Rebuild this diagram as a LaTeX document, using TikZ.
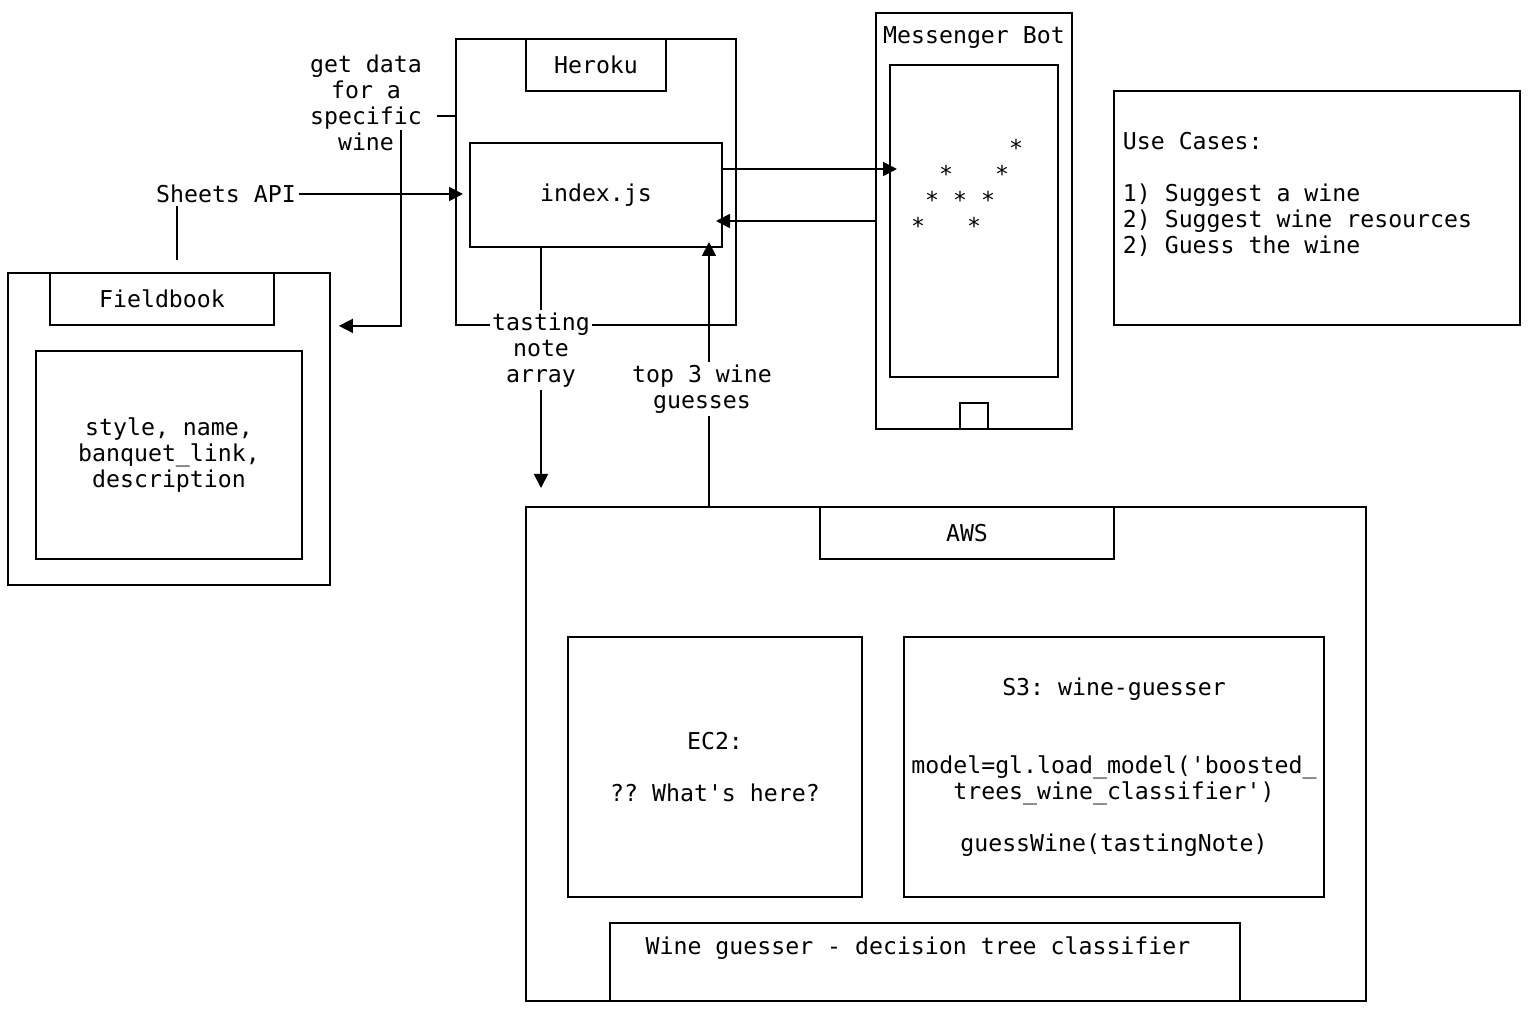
\documentclass[tikz,border=0pt]{standalone}
\usepackage{fontspec}
\setmainfont{DejaVu Sans Mono}[Ligatures=TeXOff]
\frenchspacing
\usetikzlibrary{arrows.meta}

\tikzset{
  box/.style={draw, inner sep=0pt},
  lbl/.style={font=\fontsize{11.6}{13}\selectfont, align=center, inner sep=1pt},
  arr/.style={-{Triangle[length=7pt,width=7pt]}},
}

\begin{document}
\begin{tikzpicture}[x=0.5pt, y=-0.5pt, line width=0.9pt]
  \useasboundingbox (0,0) rectangle (1528,1016);

  % Fieldbook
  \path (169,429) node[box, minimum width=161pt, minimum height=156pt] (field) {};
  \path (162,299) node[box, lbl, minimum width=112pt, minimum height=26pt] (fieldTitle) {Fieldbook};
  \path (169,455) node[box, lbl, minimum width=133pt, minimum height=104pt] (fieldData) {style, name,\\banquet\_link,\\description};

  % Heroku
  \path (596,182) node[box, minimum width=140pt, minimum height=143pt] (heroku) {};
  \path (596,65) node[box, lbl, minimum width=70pt, minimum height=26pt] (herokuTitle) {Heroku};
  \path (596,195) node[box, lbl, minimum width=126pt, minimum height=52pt] (index) {index.js};

  % Messenger Bot
  \path (974,221) node[box, minimum width=98pt, minimum height=208pt] (bot) {};
  \path (974,38) node[lbl] (botTitle) {Messenger Bot};
  \path (974,221) node[box, minimum width=84pt, minimum height=156pt] (screen) {};
  \path (974,416) node[box, minimum width=14pt, minimum height=13pt] (homeBtn) {};
  \foreach \x/\y [count=\i] in {1016/143, 946/169, 1002/169, 932/195, 960/195, 988/195, 918/221, 974/221}
    \path (\x,\y) node[lbl, yshift=-2.5pt] (star\i) {*};

  % Use cases
  \path (1317,208) node[box, minimum width=203pt, minimum height=117pt] (cases) {};
  \path (1120,194) node[lbl, anchor=west, align=left] (casesText) {Use Cases:\\[13pt]1) Suggest a wine\\2) Suggest wine resources\\2) Guess the wine};

  % AWS
  \path (946,754) node[box, minimum width=420pt, minimum height=247pt] (aws) {};
  \path (967,533) node[box, lbl, minimum width=147pt, minimum height=26pt] (awsTitle) {AWS};
  \path (715,767) node[box, lbl, minimum width=147pt, minimum height=130pt] (ec2) {EC2:\\[13pt]?? What's here?};
  \path (1114,767) node[box, lbl, minimum width=210pt, minimum height=130pt] (s3) {S3: wine-guesser\\[26pt]model=gl.load\_model('boosted\_\\trees\_wine\_classifier')\\[13pt]guessWine(tastingNote)};
  \path (925,962) node[box, minimum width=315pt, minimum height=39pt] (classifier) {};
  \path (918,948) node[lbl] (classifierText) {Wine guesser - decision tree classifier};

  % labels
  \path (366,103) node[lbl] (getData) {get data\\for a\\specific\\wine};
  \path (226,194) node[lbl] (sheets) {Sheets API};
  \path (541,350) node[lbl, fill=white] (tasting) {tasting\\note\\array};
  \path (702,389) node[lbl] (guesses) {top 3 wine\\guesses};

  % connectors
  \coordinate (herokuIn) at (463,194);
  \draw[arr] (sheets.east |- herokuIn) -- (herokuIn);
  \coordinate (fieldIn) at (177,260);
  \draw (fieldIn |- sheets.south) -- (fieldIn);

  \coordinate (gdOut) at (437,116);
  \draw (gdOut) -- (gdOut -| heroku.west);
  \coordinate (gdDown) at (401,130);
  \draw[arr, shorten >=4pt] (gdDown) |- (field.east |- heroku.south);

  \draw (index.south -| tasting) -- (tasting.north);
  \coordinate (awsIn) at (541,488);
  \draw[arr] (tasting.south) -- (awsIn);

  \coordinate (indexUp) at (709,242);
  \draw (aws.north -| indexUp) -- (indexUp |- guesses.south);
  \draw[arr] (indexUp |- guesses.north) -- (indexUp);

  \coordinate (botIn) at (897,169);
  \draw[arr] (index.east |- botIn) -- (botIn);
  \coordinate (indexIn) at (716,221);
  \draw[arr] (bot.west |- indexIn) -- (indexIn);
\end{tikzpicture}
\end{document}
